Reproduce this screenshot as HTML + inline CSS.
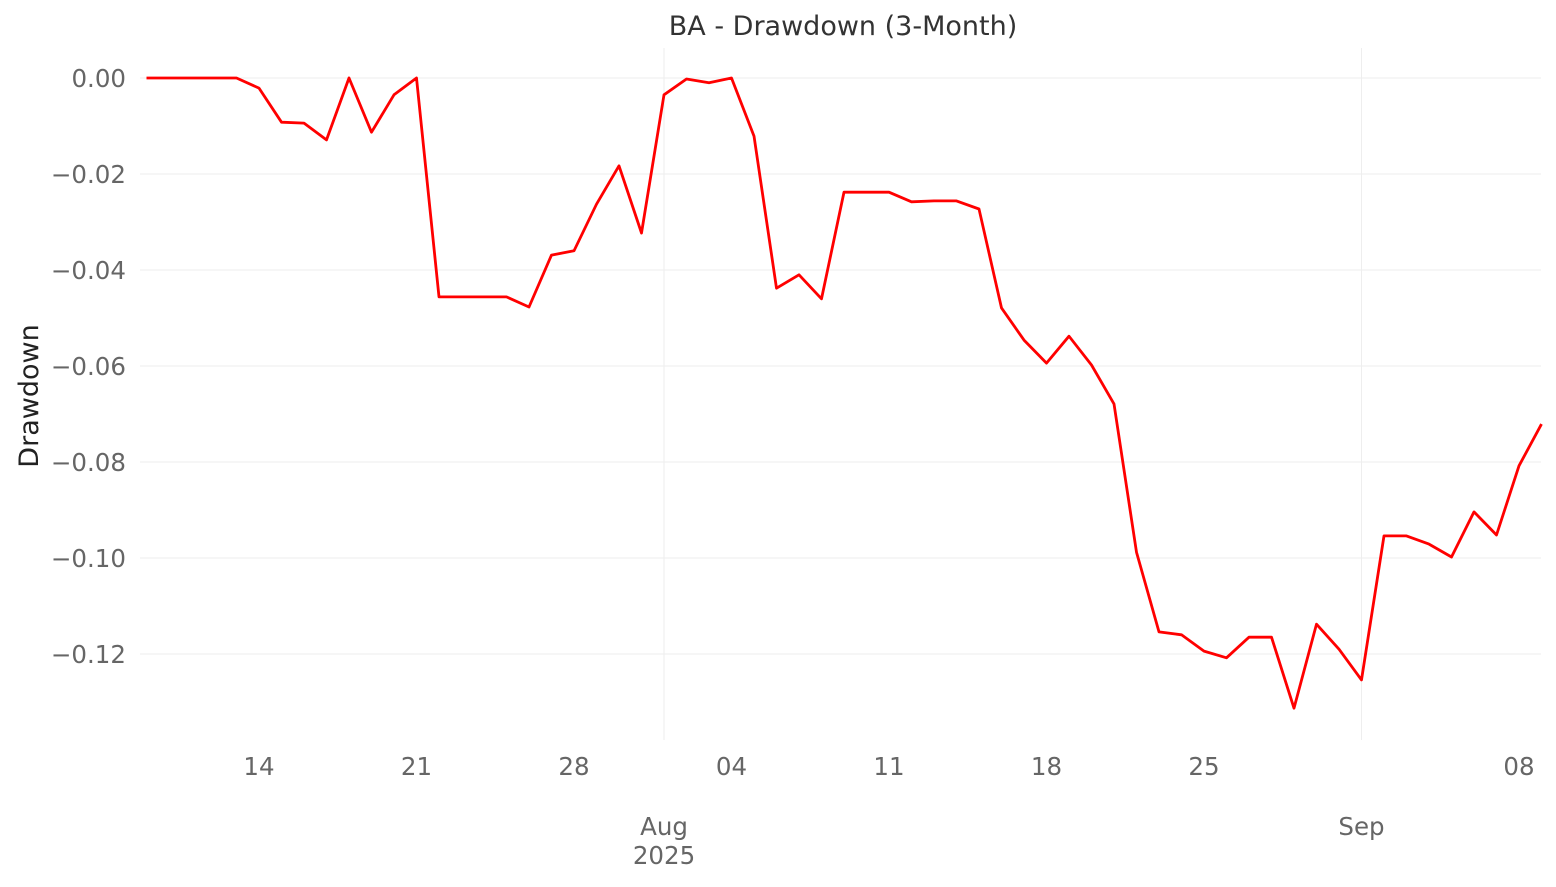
<!DOCTYPE html>
<html><head><meta charset="utf-8"><style>
body{margin:0;background:#fff;}
svg text{font-family:"DejaVu Sans","Liberation Sans",sans-serif;}
</style></head><body>
<svg id="chart" width="1556" height="882" xmlns="http://www.w3.org/2000/svg">
<text x="843" y="35" text-anchor="middle" font-size="27" fill="#333">BA - Drawdown (3-Month)</text>
<text transform="translate(38,396) rotate(-90)" text-anchor="middle" font-size="27" fill="#222">Drawdown</text>
<g id="grid"></g><g id="yticks"></g><g id="xticks"></g><g id="series"></g>
</svg>
<script>
const dayOffsets=[8,9,10,11,12,13,14,15,16,17,18,19,20,21,22,23,24,25,26,27,28,29,30,31,32,33,34,35,36,37,38,39,40,41,42,43,44,45,46,47,48,49,50,51,52,53,54,55,56,57,58,59,60,61,62,63,64,65,66,67,68,69,70];
const drawdown=[0,0,0,0,0,-0.0021,-0.0092,-0.0094,-0.0129,0,-0.0113,-0.0035,0,-0.0456,-0.0456,-0.0456,-0.0456,-0.0477,-0.0369,-0.036,-0.0263,-0.0183,-0.0323,-0.0035,-0.0002,-0.001,0,-0.0121,-0.0438,-0.041,-0.046,-0.0238,-0.0238,-0.0238,-0.0258,-0.0256,-0.0256,-0.0273,-0.0479,-0.0546,-0.0594,-0.0538,-0.0598,-0.0679,-0.0988,-0.1154,-0.116,-0.1194,-0.1208,-0.1165,-0.1165,-0.1313,-0.1138,-0.119,-0.1254,-0.0954,-0.0954,-0.0971,-0.0998,-0.0904,-0.0952,-0.0808,-0.0721];
const yTickValues=[0,-0.02,-0.04,-0.06,-0.08,-0.10,-0.12];
const yTickLabels=["0.00","\u22120.02","\u22120.04","\u22120.06","\u22120.08","\u22120.10","\u22120.12"];
const xTickDays=[13,20,27,34,41,48,55,69];
const xTickLabels=["14","21","28","04","11","18","25","08"];
const monthDays=[31,62];
const monthLabels=["Aug","Sep"];
const NS="http://www.w3.org/2000/svg";
function X(d){return 664+(d-31)*22.5;}
function Y(v){return 78-v*4800;}
function mk(tag,attrs,parent){const e=document.createElementNS(NS,tag);for(const k in attrs)e.setAttribute(k,attrs[k]);document.getElementById(parent).appendChild(e);return e;}
yTickValues.forEach((v,i)=>{
 const g=mk('line',{x1:140,x2:1541,y1:Y(v),y2:Y(v),stroke:'#eee','stroke-width':1},'grid');
 
 
 const t=mk('text',{x:126,y:Y(v)+9,'text-anchor':'end','font-size':24.5,fill:'#666'},'yticks');
 t.textContent=yTickLabels[i];
 
 
});
monthDays.forEach((d,i)=>{
 const g=mk('line',{x1:X(d),x2:X(d),y1:48,y2:740,stroke:'#eee','stroke-width':1},'grid');
 
 
 const t=mk('text',{x:X(d),y:835,'text-anchor':'middle','font-size':24.5,fill:'#666'},'xticks');
 t.textContent=monthLabels[i];
 
 
});
const yr=mk('text',{x:X(31),y:864,'text-anchor':'middle','font-size':24.5,fill:'#666'},'xticks');
yr.textContent='2025';


xTickDays.forEach((d,i)=>{
 const t=mk('text',{x:X(d),y:775,'text-anchor':'middle','font-size':24.5,fill:'#666'},'xticks');
 t.textContent=xTickLabels[i];
 
 
});
const pts=dayOffsets.map((d,i)=>X(d).toFixed(1)+','+Y(drawdown[i]).toFixed(1)).join(' ');
const line=mk('polyline',{points:pts,fill:'none',stroke:'#ff0000','stroke-width':2.8,'stroke-linejoin':'round'},'series');


</script>
</body></html>
